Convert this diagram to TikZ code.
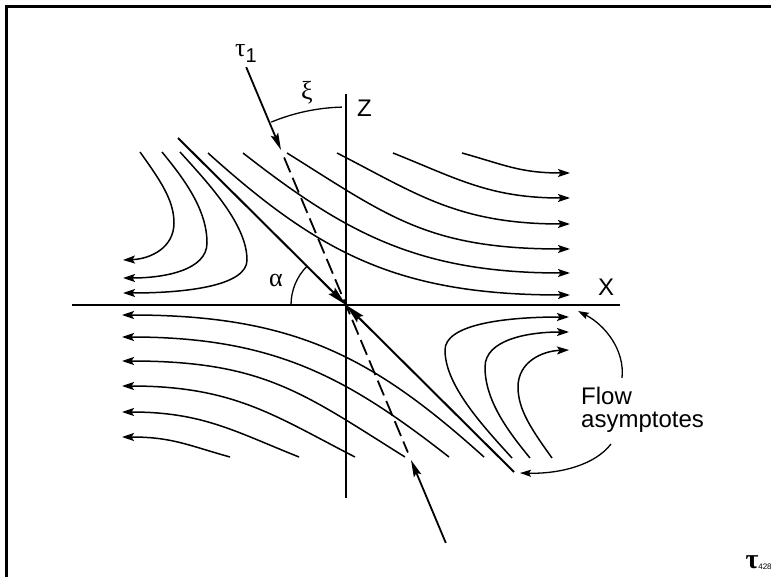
\documentclass[tikz,border=0pt]{standalone}
\usepackage{fontspec}
\setmainfont{Liberation Sans}
\newfontfamily\greekfont{Liberation Serif}
\usetikzlibrary{arrows.meta}
\begin{document}
\begin{tikzpicture}[x=1pt,y=-1pt,
  flowline/.style={line width=1.5pt, -{Stealth[length=12pt,width=8pt,inset=2.5pt]}},
  axisline/.style={line width=2pt},
  bigarrow/.style={line width=2pt, -{Stealth[length=20pt,width=9pt,inset=3pt]}},
  tauarrow/.style={line width=1.8pt, -{Stealth[length=17pt,width=8pt,inset=3pt]}},
  dashline/.style={line width=1.8pt, dash pattern=on 16pt off 6pt},
  lbl/.style={font=\fontsize{24}{24}\selectfont, inner sep=0pt},
  glbl/.style={font=\fontsize{26}{26}\selectfont\greekfont, inner sep=0pt},
  thinline/.style={line width=1.3pt},
  frameline/.style={line width=2.7pt}
]
\useasboundingbox (0,0) rectangle (771,577);
% frame
\draw[frameline] (6.5,577) -- (6.5,6.5) -- (771,6.5);

\coordinate (O) at (346,305);
% axes
\coordinate (xl) at (72,305); \coordinate (xr) at (620,305);
\coordinate (zt) at (346,94); \coordinate (zb) at (346,498);
\draw[axisline] (xl) -- (xr);
\draw[axisline] (zt) -- (zb);

% point-symmetric flow pattern
\foreach \r in {0,180}{
\begin{scope}[rotate around={\r:(346,305)}]
  % flow lines crossing to the right
  \draw[flowline] (208,153) .. controls (319.5,253.4) and (398,295) .. (570,295);
  \draw[flowline] (243,153) .. controls (345.4,233) and (418,273) .. (570,273);
  \draw[flowline] (287,153) .. controls (388.8,216.6) and (428,249) .. (570,249);
  \draw[flowline] (337,153) .. controls (417,194) and (458,224) .. (570,224);
  \draw[flowline] (393,153) .. controls (458,179) and (490,198) .. (570,198);
  \draw[flowline] (462,153) .. controls (505,165) and (520,173) .. (570,173);
  % hyperbolae turning back
  \draw[flowline] (140,152) .. controls (160,180) and (174,200) .. (174,223) .. controls (174,248) and (150,259) .. (123,260);
  \draw[flowline] (162,152) .. controls (185,180) and (207,210) .. (207,243) .. controls (207,270) and (165,278) .. (123,278);
  \draw[flowline] (180,152) .. controls (210,185) and (247,225) .. (247,260) .. controls (247,285) and (190,293) .. (123,293);
  % asymptote
  \draw[bigarrow] (178,138) -- (O);
  % tau arrow
  \draw[tauarrow] (246.2,67.1) -- (281,150);
\end{scope}
}
% dashed tau line
\coordinate (dt) at (284.1,157.5); \coordinate (db) at (407.9,452.5);
\draw[dashline] (dt) -- (db);

% angle arcs
\draw[thinline] (341.8,107.1) arc (-91.5:-112.5:198);
\draw[thinline] (291,305) arc (180:225:55);

% labels
\node[lbl, anchor=base west] (zlbl) at (357,117) {Z};
\node[lbl, anchor=base west] (xlbl) at (598,296) {X};
\node[glbl, anchor=base] (alpha) at (276,287) {α};
\node[glbl] (xi) at (307,93) {ξ};
\node[glbl] (tau) at (246,54) {τ\raisebox{-6pt}{\fontsize{20}{20}\selectfont\rmfamily 1}};

\node[lbl, anchor=base west] (flowtxt) at (581,404) {Flow};
\node[lbl, anchor=base west] (asymtxt) at (581,427) {asymptotes};
\coordinate (tipA) at (578,311);
\coordinate (tipB) at (520,473);
\draw[thinline, -{Stealth[length=11pt,width=7pt,inset=2pt]}] (622,378) .. controls (625,350) and (605,325) .. (tipA);
\draw[thinline, -{Stealth[length=11pt,width=7pt,inset=2pt]}] (611,444) .. controls (595,465) and (560,474) .. (tipB);

% logo
\node[inner sep=0pt, font=\fontsize{28}{28}\selectfont\bfseries\greekfont] (logo) at (752,562) {τ};
\node[inner sep=0pt, font=\fontsize{8}{8}\selectfont] (logonum) at (765,567) {428};
\end{tikzpicture}
\end{document}
